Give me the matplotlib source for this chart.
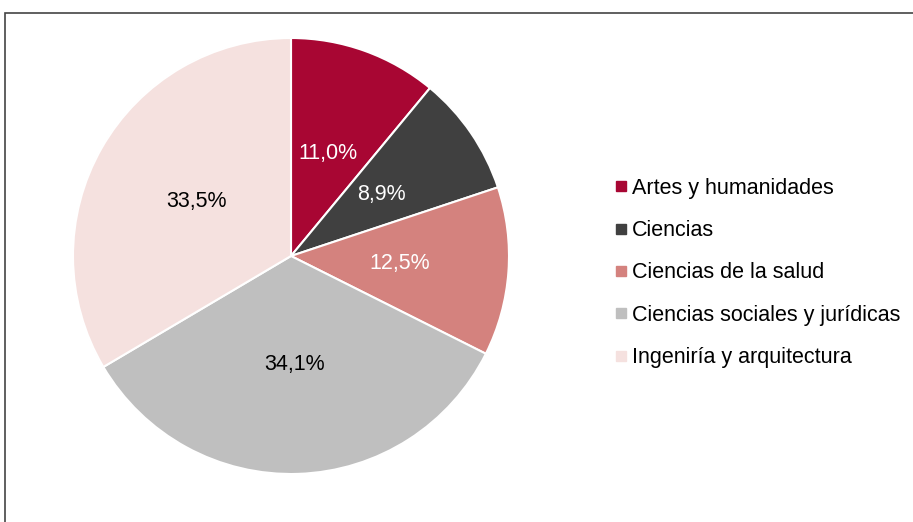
import matplotlib
matplotlib.use("Agg")
import matplotlib.pyplot as plt
from matplotlib.patches import Rectangle
from matplotlib.lines import Line2D

categories = ["Artes y humanidades", "Ciencias", "Ciencias de la salud",
              "Ciencias sociales y jurídicas", "Ingeniría y arquitectura"]
values = [11.0, 8.9, 12.5, 34.1, 33.5]
colors = ["#A80633", "#404040", "#D4827E", "#BFBFBF", "#F5E1DF"]
label_colors = ["white", "white", "white", "black", "black"]

plt.rcParams['font.family'] = ['Liberation Sans', 'DejaVu Sans']

fig = plt.figure(figsize=(9.13, 5.22), dpi=100)

# frame
fig.add_artist(Rectangle((5/913, -0.1), 1.2, (522-13)/522 + 0.1, transform=fig.transFigure,
                         fill=False, edgecolor="#444444", linewidth=1.2))

ax = fig.add_axes([(291-218)/913, (522-256-218)/522, 436/913, 436/522])
wedges, texts, autotexts = ax.pie(
    values, colors=colors, startangle=90, counterclock=False,
    autopct=lambda p: f"{p:.1f}%".replace(".", ","), pctdistance=0.5,
    wedgeprops=dict(edgecolor="white", linewidth=1.5),
    textprops=dict(fontsize=15.5))
for t, c in zip(autotexts, label_colors):
    t.set_color(c)
ax.set_xlim(-1, 1)
ax.set_ylim(-1, 1)
ax.set_aspect("equal")
ax.axis("off")

handles = [Line2D([], [], marker="s", linestyle="none", markersize=7.5,
                  markerfacecolor=c, markeredgecolor=c) for c in colors]
fig.legend(handles, categories, loc="center left", bbox_to_anchor=(603/913, 1 - 273/522),
           frameon=False, fontsize=15.5, handletextpad=0.05, labelspacing=0.99,
           handlelength=0.9, borderaxespad=0)

fig.savefig("out.png", dpi=100)
